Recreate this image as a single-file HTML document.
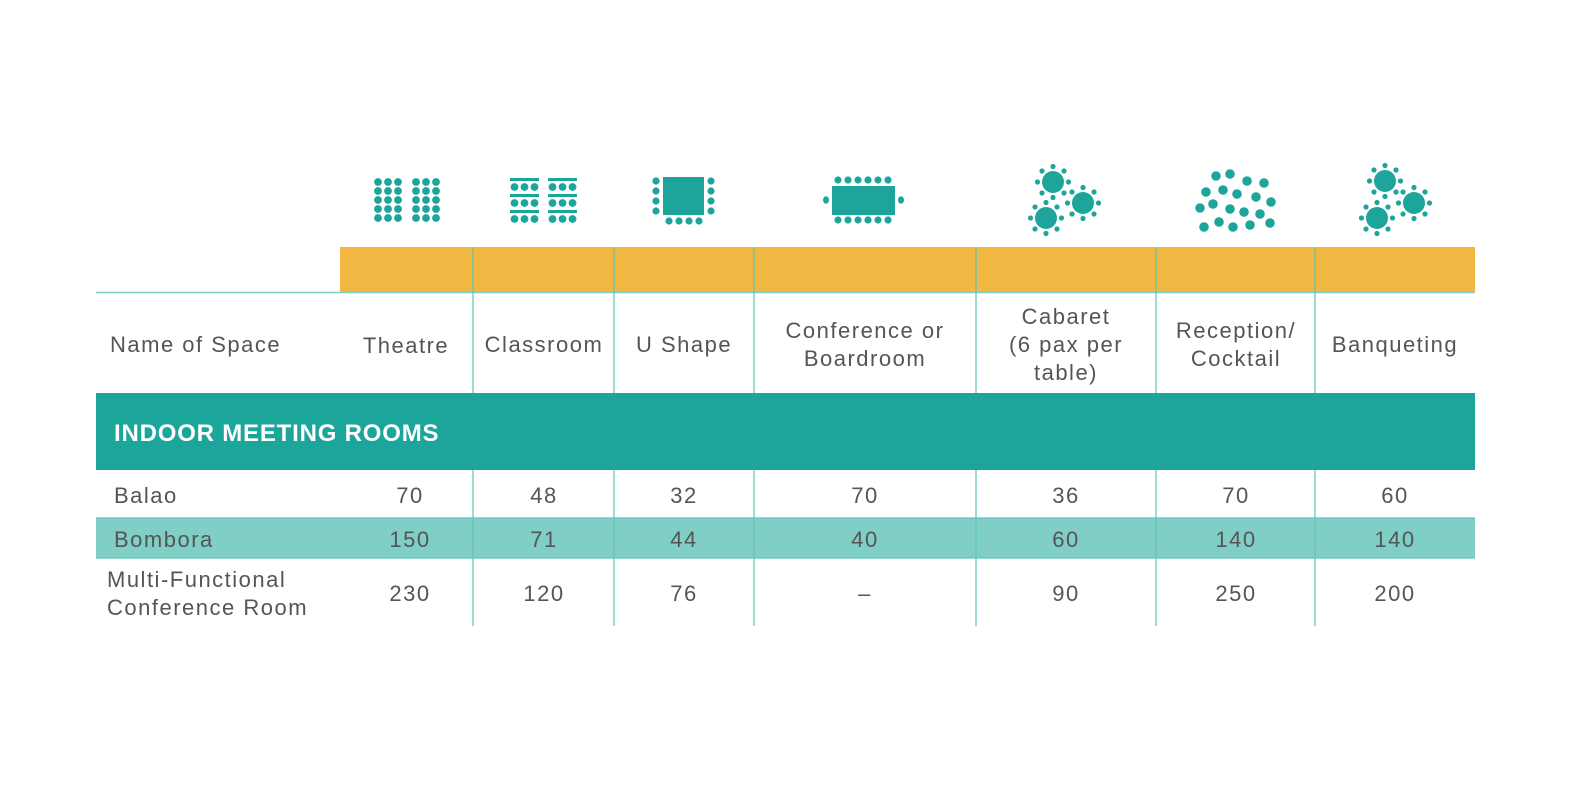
<!DOCTYPE html>
<html><head><meta charset="utf-8"><style>
html,body{margin:0;padding:0;background:#fff;}
svg{display:block;font-family:"Liberation Sans",sans-serif;}
text{fill:#555;font-size:22px;letter-spacing:1.5px;}
</style></head><body>
<svg width="1575" height="795" viewBox="0 0 1575 795" xmlns="http://www.w3.org/2000/svg">
<defs>
<g id="tb" fill="#1ea59b">
<circle r="11"/>
<circle cx="15.5" cy="0" r="2.6"/><circle cx="11" cy="11" r="2.6"/><circle cx="0" cy="15.5" r="2.6"/><circle cx="-11" cy="11" r="2.6"/>
<circle cx="-15.5" cy="0" r="2.6"/><circle cx="-11" cy="-11" r="2.6"/><circle cx="0" cy="-15.5" r="2.6"/><circle cx="11" cy="-11" r="2.6"/>
</g>
<g id="row3" fill="#1ea59b"><circle cx="0" r="3.9"/><circle cx="10" r="3.9"/><circle cx="20" r="3.9"/></g>
</defs>

<rect x="340" y="247" width="1135" height="45" fill="#f2b643"/>
<line x1="96" y1="292.5" x2="1475" y2="292.5" stroke="#7fcfc7" stroke-width="1.5"/>
<rect x="96" y="518" width="1379" height="40" fill="#80cfc7"/>
<g stroke="#5cc3b9" stroke-width="1.2">
<line x1="473" y1="247" x2="473" y2="626"/><line x1="614" y1="247" x2="614" y2="626"/>
<line x1="754" y1="247" x2="754" y2="626"/><line x1="976" y1="247" x2="976" y2="626"/>
<line x1="1156" y1="247" x2="1156" y2="626"/><line x1="1315" y1="247" x2="1315" y2="626"/>
<line x1="96" y1="518" x2="1475" y2="518"/><line x1="96" y1="558" x2="1475" y2="558"/>
</g>
<rect x="96" y="393" width="1379" height="77" fill="#1ca59b"/>
<text x="114" y="441" style="fill:#fff;font-weight:bold;font-size:24px;letter-spacing:0.8px">INDOOR MEETING ROOMS</text>

<text x="110" y="352">Name of Space</text>
<g text-anchor="middle">
<text x="406" y="353">Theatre</text>
<text x="544" y="352">Classroom</text>
<text x="684" y="352">U Shape</text>
<text x="865" y="338">Conference or</text><text x="865" y="366">Boardroom</text>
<text x="1066" y="324">Cabaret</text><text x="1066" y="352">(6 pax per</text><text x="1066" y="380">table)</text>
<text x="1236" y="338">Reception/</text><text x="1236" y="366">Cocktail</text>
<text x="1395" y="352">Banqueting</text>
</g>
<text x="114" y="503">Balao</text>
<text x="114" y="547">Bombora</text>
<text x="107" y="587">Multi-Functional</text>
<text x="107" y="615">Conference Room</text>
<g text-anchor="middle">
<text x="410" y="503">70</text><text x="544" y="503">48</text><text x="684" y="503">32</text><text x="865" y="503">70</text><text x="1066" y="503">36</text><text x="1236" y="503">70</text><text x="1395" y="503">60</text>
<text x="410" y="547">150</text><text x="544" y="547">71</text><text x="684" y="547">44</text><text x="865" y="547">40</text><text x="1066" y="547">60</text><text x="1236" y="547">140</text><text x="1395" y="547">140</text>
<text x="410" y="601">230</text><text x="544" y="601">120</text><text x="684" y="601">76</text><text x="865" y="601">–</text><text x="1066" y="601">90</text><text x="1236" y="601">250</text><text x="1395" y="601">200</text>
</g>

<g>
<use href="#row3" x="378" y="182"/><use href="#row3" x="378" y="191"/><use href="#row3" x="378" y="200"/><use href="#row3" x="378" y="209"/><use href="#row3" x="378" y="218"/>
<use href="#row3" x="416" y="182"/><use href="#row3" x="416" y="191"/><use href="#row3" x="416" y="200"/><use href="#row3" x="416" y="209"/><use href="#row3" x="416" y="218"/>
</g>
<g fill="#1ea59b">
<rect x="510" y="178" width="29" height="3"/><rect x="548" y="178" width="29" height="3"/>
<rect x="510" y="194" width="29" height="3"/><rect x="548" y="194" width="29" height="3"/>
<rect x="510" y="210" width="29" height="3"/><rect x="548" y="210" width="29" height="3"/>
</g>
<use href="#row3" x="514.5" y="187"/><use href="#row3" x="552.5" y="187"/>
<use href="#row3" x="514.5" y="203"/><use href="#row3" x="552.5" y="203"/>
<use href="#row3" x="514.5" y="219"/><use href="#row3" x="552.5" y="219"/>
<g fill="#1ea59b">
<rect x="663" y="177" width="41" height="38"/>
<circle cx="656" cy="181" r="3.6"/><circle cx="656" cy="191" r="3.6"/><circle cx="656" cy="201" r="3.6"/><circle cx="656" cy="211" r="3.6"/>
<circle cx="711" cy="181" r="3.6"/><circle cx="711" cy="191" r="3.6"/><circle cx="711" cy="201" r="3.6"/><circle cx="711" cy="211" r="3.6"/>
<circle cx="669" cy="221" r="3.6"/><circle cx="679" cy="221" r="3.6"/><circle cx="689" cy="221" r="3.6"/><circle cx="699" cy="221" r="3.6"/>
</g>
<g fill="#1ea59b">
<rect x="832" y="186" width="63" height="29"/>
<circle cx="838" cy="180" r="3.6"/><circle cx="848" cy="180" r="3.6"/><circle cx="858" cy="180" r="3.6"/><circle cx="868" cy="180" r="3.6"/><circle cx="878" cy="180" r="3.6"/><circle cx="888" cy="180" r="3.6"/>
<circle cx="838" cy="220" r="3.6"/><circle cx="848" cy="220" r="3.6"/><circle cx="858" cy="220" r="3.6"/><circle cx="868" cy="220" r="3.6"/><circle cx="878" cy="220" r="3.6"/><circle cx="888" cy="220" r="3.6"/>
<ellipse cx="826" cy="200" rx="3" ry="3.8"/><ellipse cx="901" cy="200" rx="3" ry="3.8"/>
</g>
<use href="#tb" x="1053" y="182"/><use href="#tb" x="1083" y="203"/><use href="#tb" x="1046" y="218"/>
<g fill="#1ea59b">
<circle cx="1216" cy="176" r="4.8"/><circle cx="1230" cy="174" r="4.8"/><circle cx="1247" cy="181" r="4.8"/><circle cx="1264" cy="183" r="4.8"/>
<circle cx="1206" cy="192" r="4.8"/><circle cx="1223" cy="190" r="4.8"/><circle cx="1237" cy="194" r="4.8"/><circle cx="1256" cy="197" r="4.8"/><circle cx="1271" cy="202" r="4.8"/>
<circle cx="1213" cy="204" r="4.8"/><circle cx="1200" cy="208" r="4.8"/><circle cx="1230" cy="209" r="4.8"/><circle cx="1244" cy="212" r="4.8"/><circle cx="1260" cy="214" r="4.8"/>
<circle cx="1204" cy="227" r="4.8"/><circle cx="1219" cy="222" r="4.8"/><circle cx="1233" cy="227" r="4.8"/><circle cx="1250" cy="225" r="4.8"/><circle cx="1270" cy="223" r="4.8"/>
</g>
<use href="#tb" x="1385" y="181"/><use href="#tb" x="1414" y="203"/><use href="#tb" x="1377" y="218"/>
</svg>
</body></html>
